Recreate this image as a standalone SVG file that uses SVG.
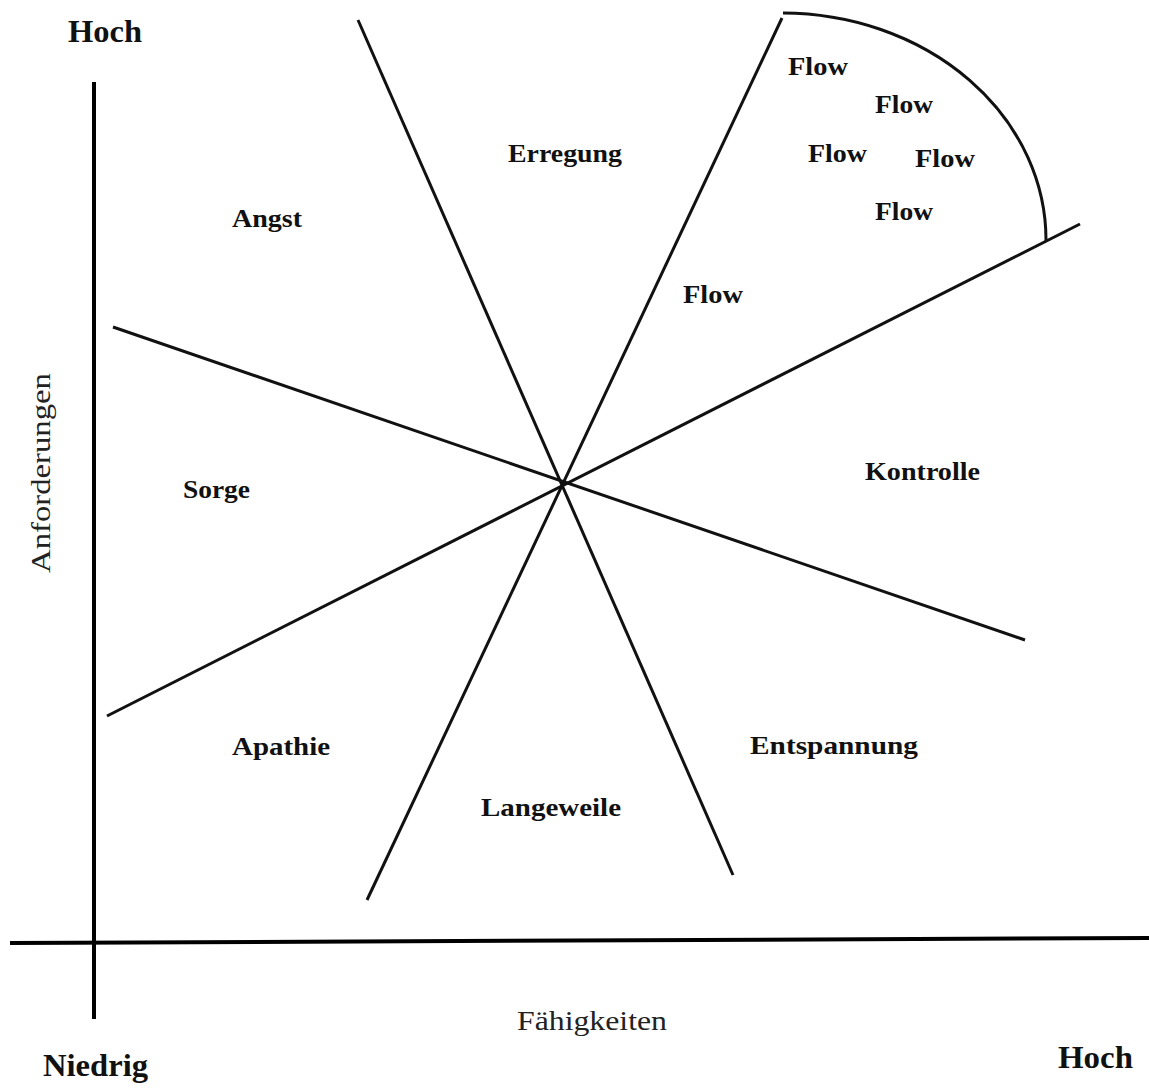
<svg xmlns="http://www.w3.org/2000/svg" width="1149" height="1091" viewBox="0 0 1149 1091">
<style>
.ax{stroke:#000;stroke-width:4;fill:none;stroke-linecap:butt}
.ln{stroke:#111;stroke-width:3;fill:none}
.b{font-family:"Liberation Serif","Times New Roman",serif;font-weight:bold;fill:#111}
.r{font-family:"Liberation Serif","Times New Roman",serif;fill:#222}
.lab{font-size:26px}
.big{font-size:31px}
</style>
<rect width="1149" height="1091" fill="#fff"/>
<g id="axes">
<line class="ax" x1="94" y1="82" x2="94" y2="1019"/>
<line class="ax" x1="10" y1="943" x2="1149" y2="938"/>
</g>
<g id="connectors">
<line class="ln" x1="358" y1="20" x2="733" y2="875"/>
<line class="ln" x1="782" y1="18" x2="367" y2="900"/>
<line class="ln" x1="113" y1="327" x2="1025" y2="640"/>
<line class="ln" x1="107" y1="716" x2="1080" y2="224"/>
<path class="ln" d="M783,13 A264,227 0 0 1 1046,241"/>
</g>
<g id="axis-labels">
<text class="b big" x="68" y="42" textLength="74" lengthAdjust="spacingAndGlyphs">Hoch</text>
<text class="b big" x="43" y="1076" textLength="105" lengthAdjust="spacingAndGlyphs">Niedrig</text>
<text class="b big" x="1058" y="1068" textLength="75" lengthAdjust="spacingAndGlyphs">Hoch</text>
<text class="r" font-size="28" x="517" y="1030" textLength="150" lengthAdjust="spacingAndGlyphs">Fähigkeiten</text>
<text class="r" font-size="28" transform="translate(50,573) rotate(-90)" x="0" y="0" textLength="200" lengthAdjust="spacingAndGlyphs">Anforderungen</text>
</g>
<g id="node-angst"><text class="b lab" x="232" y="227" textLength="70" lengthAdjust="spacingAndGlyphs">Angst</text></g>
<g id="node-erregung"><text class="b lab" x="508" y="162" textLength="114" lengthAdjust="spacingAndGlyphs">Erregung</text></g>
<g id="node-flow"><text class="b lab" x="683" y="303" textLength="60" lengthAdjust="spacingAndGlyphs">Flow</text></g>
<g id="node-flow-1"><text class="b lab" x="788" y="75" textLength="60" lengthAdjust="spacingAndGlyphs">Flow</text></g>
<g id="node-flow-2"><text class="b lab" x="875" y="113" textLength="58" lengthAdjust="spacingAndGlyphs">Flow</text></g>
<g id="node-flow-3"><text class="b lab" x="808" y="162" textLength="59" lengthAdjust="spacingAndGlyphs">Flow</text></g>
<g id="node-flow-4"><text class="b lab" x="915" y="167" textLength="60" lengthAdjust="spacingAndGlyphs">Flow</text></g>
<g id="node-flow-5"><text class="b lab" x="875" y="220" textLength="58" lengthAdjust="spacingAndGlyphs">Flow</text></g>
<g id="node-sorge"><text class="b lab" x="183" y="498" textLength="67" lengthAdjust="spacingAndGlyphs">Sorge</text></g>
<g id="node-kontrolle"><text class="b lab" x="865" y="480" textLength="115" lengthAdjust="spacingAndGlyphs">Kontrolle</text></g>
<g id="node-apathie"><text class="b lab" x="232" y="755" textLength="98" lengthAdjust="spacingAndGlyphs">Apathie</text></g>
<g id="node-langeweile"><text class="b lab" x="481" y="816" textLength="140" lengthAdjust="spacingAndGlyphs">Langeweile</text></g>
<g id="node-entspannung"><text class="b lab" x="750" y="754" textLength="168" lengthAdjust="spacingAndGlyphs">Entspannung</text></g>
</svg>
